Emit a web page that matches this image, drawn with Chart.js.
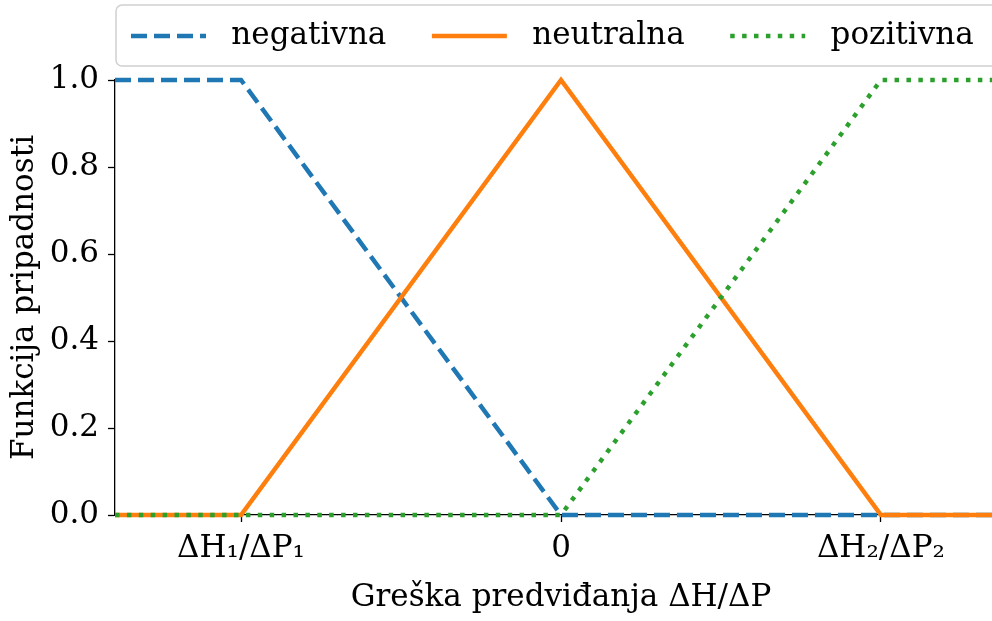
<!DOCTYPE html>
<html>
<head>
<meta charset="utf-8">
<script src="https://cdn.jsdelivr.net/npm/chart.js@4/dist/chart.umd.min.js"></script>
<style>
  html, body { margin: 0; padding: 0; background: #fff; overflow: hidden; }
  #wrap { width: 1010px; height: 621px; }
</style>
</head>
<body>
<div id="wrap"><canvas id="c"></canvas></div>
<script>
// ---------- Data ----------
const seriesLabels = ["negativna", "neutralna", "pozitivna"];
const xNeg = [-1.394, -1, 0, 1.394];
const yNeg = [1, 1, 0, 0];
const xNeu = [-1.394, -1, 0, 1, 1.394];
const yNeu = [0, 0, 1, 0, 0];
const xPoz = [-1.394, 0, 1, 1.394];
const yPoz = [0, 0, 1, 1];
const xRange = [-1.394, 1.394];
const xTickValues = [-1, 0, 1];
const xTickLabels = ["ΔH₁/ΔP₁", "0", "ΔH₂/ΔP₂"];
const yTickValues = [0, 0.2, 0.4, 0.6, 0.8, 1.0];
const xTitle = "Greška predviđanja ΔH/ΔP";
const yTitle = "Funkcija pripadnosti";

// ---------- Helpers ----------
const pts = (xs, ys) => xs.map((x, i) => ({ x, y: ys[i] }));
const FONT = { family: "'DejaVu Serif', serif", size: 31 };
const LW = 4.5;

Chart.defaults.color = "#000";
Chart.defaults.font = FONT;

// legend frame, like a matplotlib legend box
const legendFrame = {
    id: "legendFrame",
    beforeDraw(chart) {
        const { ctx, chartArea: a } = chart;
        const l = a.left + 1, t = 5, r = a.right - 1, b = 66, rad = 6;
        ctx.save();
        ctx.beginPath();
        ctx.moveTo(l + rad, t);
        ctx.arcTo(r, t, r, b, rad);
        ctx.arcTo(r, b, l, b, rad);
        ctx.arcTo(l, b, l, t, rad);
        ctx.arcTo(l, t, r, t, rad);
        ctx.closePath();
        ctx.fillStyle = "rgba(255,255,255,0.8)";
        ctx.fill();
        ctx.lineWidth = 1.5;
        ctx.strokeStyle = "#d0d0d0";
        ctx.stroke();
        ctx.restore();
    }
};

// fixed legend height so plot top lands where it should
const legendHeight = {
    id: "legendHeight",
    beforeInit(chart) {
        const lg = chart.legend;
        if (!lg) return;
        const fit = lg.fit;
        lg.fit = function () {
            this.maxWidth = 4000;
            fit.call(this);
            this.height = 75.5;
        };
    }
};

const mkTicks = (vals) => (scale) => { scale.ticks = vals.map(v => ({ value: v })); };

const colors = ["#1f77b4", "#ff7f0e", "#2ca02c"];
const dashes = [[16, 7], [], [4.5, 7.4]];

new Chart(document.getElementById("c"), {
    type: "line",
    data: {
        datasets: [pts(xNeg, yNeg), pts(xNeu, yNeu), pts(xPoz, yPoz)].map((data, i) => ({
            label: seriesLabels[i],
            data,
            borderColor: colors[i],
            backgroundColor: colors[i],
            borderDash: dashes[i],
            borderWidth: LW,
            pointRadius: 0,
            tension: 0,
            fill: false,
            clip: false,
            order: 2 - i   // later series drawn on top, as in matplotlib
        }))
    },
    options: {
        animation: false,
        responsive: true,
        maintainAspectRatio: false,
        layout: { padding: { top: 4.5, left: 0, right: 3, bottom: 0 } },
        plugins: {
            tooltip: { enabled: false },
            legend: {
                position: "top",
                align: "start",
                fullSize: false,
                labels: {
                    usePointStyle: true,
                    pointStyle: "line",
                    pointStyleWidth: 75,
                    padding: 16,
                    font: FONT,
                    color: "#000",
                    generateLabels(chart) {
                        const items = Chart.defaults.plugins.legend.labels.generateLabels(chart)
                            .sort((a, b) => a.datasetIndex - b.datasetIndex);
                        items.forEach((it, i) => {
                            const ds = chart.data.datasets[it.datasetIndex];
                            it.text = " " + it.text + (i < items.length - 1 ? "   " : "");
                            it.pointStyle = "line";
                            it.lineDash = ds.borderDash;
                            it.lineWidth = LW;
                            it.strokeStyle = ds.borderColor;
                            it.lineCap = "butt";
                        });
                        return items;
                    }
                }
            }
        },
        scales: {
            x: {
                type: "linear",
                min: xRange[0], max: xRange[1],
                afterBuildTicks: mkTicks(xTickValues),
                afterFit: s => { s.height = 106; },
                grid: { drawOnChartArea: false, drawTicks: true, tickLength: 7, tickColor: "#000", tickWidth: 1.3 },
                border: { display: true, color: "#000", width: 1.3 },
                ticks: {
                    padding: 8, font: FONT, color: "#000", maxRotation: 0, autoSkip: false,
                    callback: v => xTickLabels[xTickValues.indexOf(v)] ?? ""
                },
                title: { display: true, text: xTitle, font: FONT, color: "#000", padding: 4 }
            },
            y: {
                min: 0, max: 1,
                afterBuildTicks: mkTicks(yTickValues),
                afterFit: s => { s.width = 115; },
                grid: { drawOnChartArea: false, drawTicks: true, tickLength: 7, tickColor: "#000", tickWidth: 1.3 },
                border: { display: true, color: "#000", width: 1.3 },
                ticks: { padding: 9, font: FONT, color: "#000", autoSkip: false, callback: v => Number(v).toFixed(1) },
                title: { display: true, text: yTitle, font: FONT, color: "#000", padding: 6 }
            }
        }
    },
    plugins: [legendHeight, legendFrame]
});
</script>
</body>
</html>
